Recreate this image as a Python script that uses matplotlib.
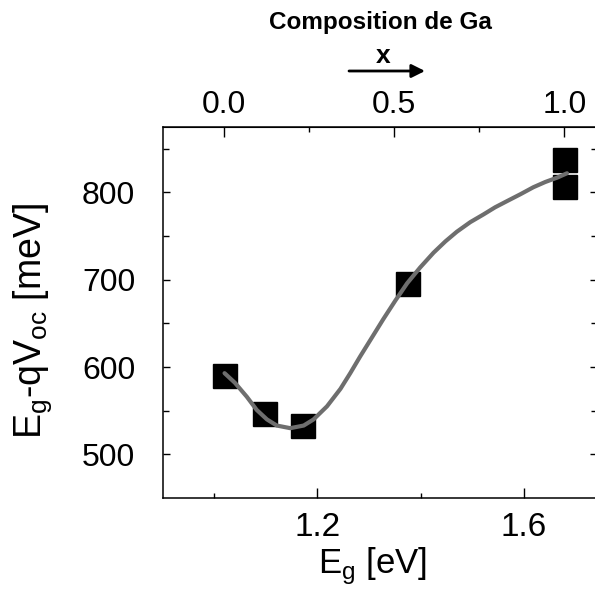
import numpy as np
import matplotlib
matplotlib.use("Agg")
import matplotlib.pyplot as plt

plt.rcParams['font.family'] = ['Liberation Sans', 'DejaVu Sans']
plt.rcParams['mathtext.fontset'] = 'custom'
plt.rcParams['mathtext.rm'] = 'Liberation Sans'

# --- measured points (band gap in eV, Eg - qVoc in meV) ---
eg_points = [1.022, 1.099, 1.172, 1.376, 1.680, 1.680]
loss_points = [590, 546, 532, 695, 837, 806]

# --- guide curve ---
eg_curve = [1.021, 1.041, 1.064, 1.083, 1.103, 1.122, 1.148, 1.174, 1.193,
            1.219, 1.245, 1.264, 1.283, 1.305, 1.328, 1.351, 1.374, 1.399,
            1.425, 1.448, 1.470, 1.496, 1.522, 1.544, 1.570, 1.593, 1.618,
            1.641, 1.664, 1.683]
loss_curve = [593, 582, 566, 551, 540, 533, 530, 533, 540,
              555, 575, 593, 612, 633, 655, 676, 696, 714,
              731, 744, 755, 766, 775, 783, 791, 798, 806,
              812, 817, 822]

# Ga composition x=0 / x=1 mapped onto the band gap axis
EG_X0 = 1.020
EG_X1 = 1.678

fig = plt.figure(figsize=(5.95, 5.96), dpi=100)
ax = fig.add_axes([163 / 595, 1 - 498 / 596, 434 / 595, 371 / 596])

ax.plot(eg_points, loss_points, linestyle='none', marker='s', ms=17,
        color='black', zorder=2)
ax.plot(eg_curve, loss_curve, color='#6e6e6e', lw=3.0,
        solid_capstyle='round', solid_joinstyle='round', zorder=3)

ax.set_xlim(0.902, 1.741)
ax.set_ylim(450, 875)
ax.set_xticks([1.2, 1.6])
ax.set_xticks([1.0, 1.4], minor=True)
ax.set_yticks([500, 600, 700, 800])
ax.set_yticks([550, 650, 750, 850], minor=True)
ax.set_xticklabels(['1.2', '1.6'])

ax.tick_params(which='both', direction='in', right=True, width=1.0)
ax.tick_params(axis='x', which='major', length=7, pad=10, labelsize=24)
ax.tick_params(axis='x', which='minor', length=3.5)
ax.tick_params(axis='y', which='major', length=5, pad=20, labelsize=23)
ax.tick_params(axis='y', which='minor', length=4)
for sp in ax.spines.values():
    sp.set_linewidth(1.1)

# top composition axis
top = ax.secondary_xaxis(
    'top',
    functions=(lambda e: (e - EG_X0) / (EG_X1 - EG_X0),
               lambda c: EG_X0 + c * (EG_X1 - EG_X0)))
top.set_xticks([0.0, 0.5, 1.0])
top.set_xticks([0.25, 0.75], minor=True)
top.set_xticklabels(['0.0', '0.5', '1.0'])
top.tick_params(which='both', direction='in', width=1.0, labelsize=23)
top.tick_params(which='major', length=7, pad=5)
top.tick_params(which='minor', length=3.5)

fig.text(373 / 595, 1 - 566 / 596, r'E$_\mathregular{g}$ [eV]',
         fontsize=25, ha='center', va='center')
fig.text(33 / 595, 1 - 321 / 596, r'E$_\mathregular{g}$-qV$_\mathregular{oc}$ [meV]',
         fontsize=27, rotation=90, ha='center', va='center')

fig.text(380 / 595, 1 - 22 / 596, 'Composition de Ga', fontsize=17.5,
         fontweight='bold', ha='center', va='center')
fig.text(383 / 595, 1 - 56 / 596, 'x', fontsize=19, fontweight='bold',
         ha='center', va='center')
ax.annotate('', xy=(425 / 595, 1 - 71 / 596), xytext=(349 / 595, 1 - 71 / 596),
            xycoords='figure fraction', textcoords='figure fraction',
            arrowprops=dict(arrowstyle='-|>', color='black', lw=2,
                            mutation_scale=20, shrinkA=0, shrinkB=0))

fig.savefig('out.png', dpi=100)
